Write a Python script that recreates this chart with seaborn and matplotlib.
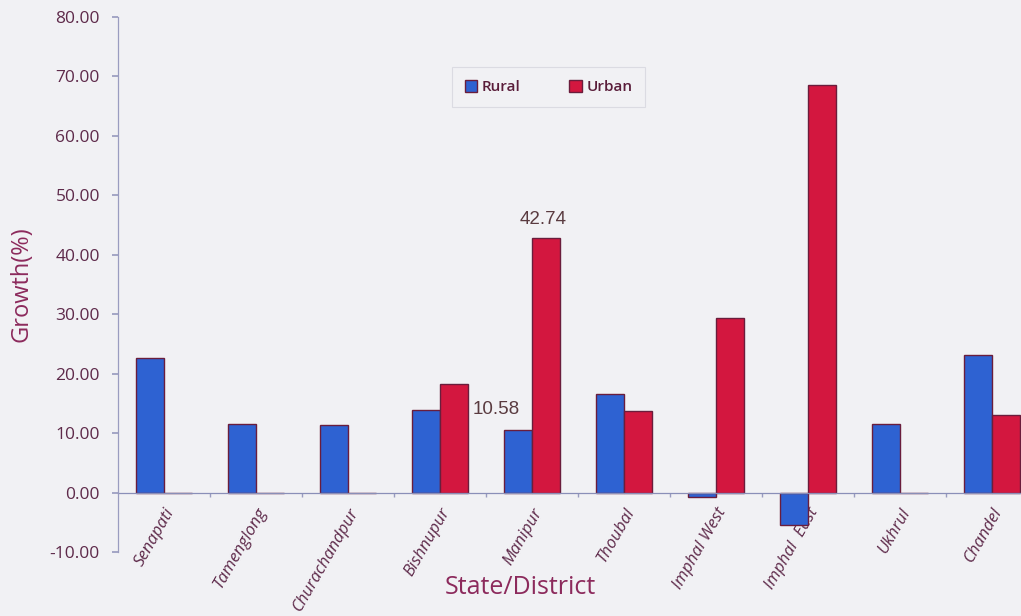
import numpy as np
import pandas as pd
import matplotlib
matplotlib.use("Agg")
import matplotlib.pyplot as plt
import seaborn as sns
from matplotlib.patches import Patch

districts = ["Senapati", "Tamenglong", "Churachandpur", "Bishnupur", "Manipur",
             "Thoubal", "Imphal West", "Imphal  East", "Ukhrul", "Chandel"]
rural = [22.6, 11.6, 11.4, 13.9, 10.58, 16.6, -0.8, -5.5, 11.6, 23.2]
urban = [0.0, 0.0, 0.0, 18.3, 42.74, 13.8, 29.4, 68.6, 0.0, 13.1]
series = ["Rural", "Urban"]
yticks = [-10, 0, 10, 20, 30, 40, 50, 60, 70, 80]

df = pd.DataFrame({
    "District": districts * 2,
    "Area": ["Rural"] * len(districts) + ["Urban"] * len(districts),
    "Growth": rural + urban,
})

sns.set_theme(style="white")
plt.rcParams["font.family"] = ["Open Sans", "DejaVu Sans"]

bg = "#f1f1f4"
fig = plt.figure(figsize=(10.21, 6.16), dpi=100, facecolor=bg)
ax = fig.add_axes([0.1156, 0.1039, 0.901, 0.8685], facecolor=bg)

palette = {"Rural": "#2e62d2", "Urban": "#d3173f"}
sns.barplot(data=df, x="District", y="Growth", hue="Area", order=districts,
            hue_order=series, palette=palette, width=0.6, gap=0,
            edgecolor="#6a1d3c", linewidth=1.0, saturation=1, ax=ax, legend=False)

ax.set_ylim(-10, 80)
ax.set_xlim(-0.5, 9.5)
ax.set_yticks(yticks)
ax.set_yticklabels([f"{v:.2f}" for v in yticks], fontsize=12.5, color="#5e2a4a")

for s in ["top", "right"]:
    ax.spines[s].set_visible(False)
ax.spines["bottom"].set_position(("data", 0))
ax.spines["bottom"].set_color("#8a8fb8")
ax.spines["bottom"].set_linewidth(0.9)
ax.spines["bottom"].set_zorder(1)
ax.spines["left"].set_color("#9a9cc0")
ax.spines["left"].set_linewidth(0.9)
ax.tick_params(axis="y", left=True, length=4, color="#9a9cc0", pad=9)
ax.tick_params(axis="x", bottom=False, pad=3)
ax.set_xticks(range(len(districts)))
ax.set_xticklabels(districts, rotation=60, ha="right", rotation_mode="anchor",
                   fontsize=12, color="#5e2a4a", style="italic")
# minor boundary ticks on the zero line
ax.set_xticks(np.arange(0.5, 9.5, 1), minor=True)
ax.tick_params(axis="x", which="minor", bottom=True, length=3, color="#9a9cc0")

ax.set_ylabel("Growth(%)", fontsize=17, color="#8c2a5c", labelpad=12)
ax.set_xlabel("")
fig.text(520 / 1021, 1 - 588 / 616, "State/District", fontsize=18, color="#8c2a5c",
         ha="center", va="center")

# data labels for Manipur
i = districts.index("Manipur")
ax.annotate(f"{rural[i]:.2f}", xy=(i - 0.15, rural[i]), xytext=(-16, 14.5),
            textcoords="offset points", ha="center", va="center",
            fontsize=13.5, color="#5a3b40", family="Liberation Sans")
ax.annotate(f"{urban[i]:.2f}", xy=(i + 0.15, urban[i]), xytext=(-2, 13.5),
            textcoords="offset points", ha="center", va="center",
            fontsize=13.5, color="#5a3b40", family="Liberation Sans")

handles = [Patch(facecolor=palette[s], edgecolor="#6a1d3c", label=s) for s in series]
leg = fig.legend(handles=handles, loc="upper left", bbox_to_anchor=(0.4427, 0.891),
                 borderaxespad=0, ncol=2, frameon=True, fontsize=11,
                 handlelength=0.8, handleheight=0.8, columnspacing=3.2,
                 borderpad=0.85, handletextpad=0.3, fancybox=False)
leg.get_frame().set_edgecolor("#d6d6de")
leg.get_frame().set_facecolor(bg)
leg.get_frame().set_linewidth(0.8)
for t in leg.get_texts():
    t.set_color("#5a1d3a")
    t.set_fontweight("semibold")

fig.savefig("out.png", dpi=100, facecolor=bg)
